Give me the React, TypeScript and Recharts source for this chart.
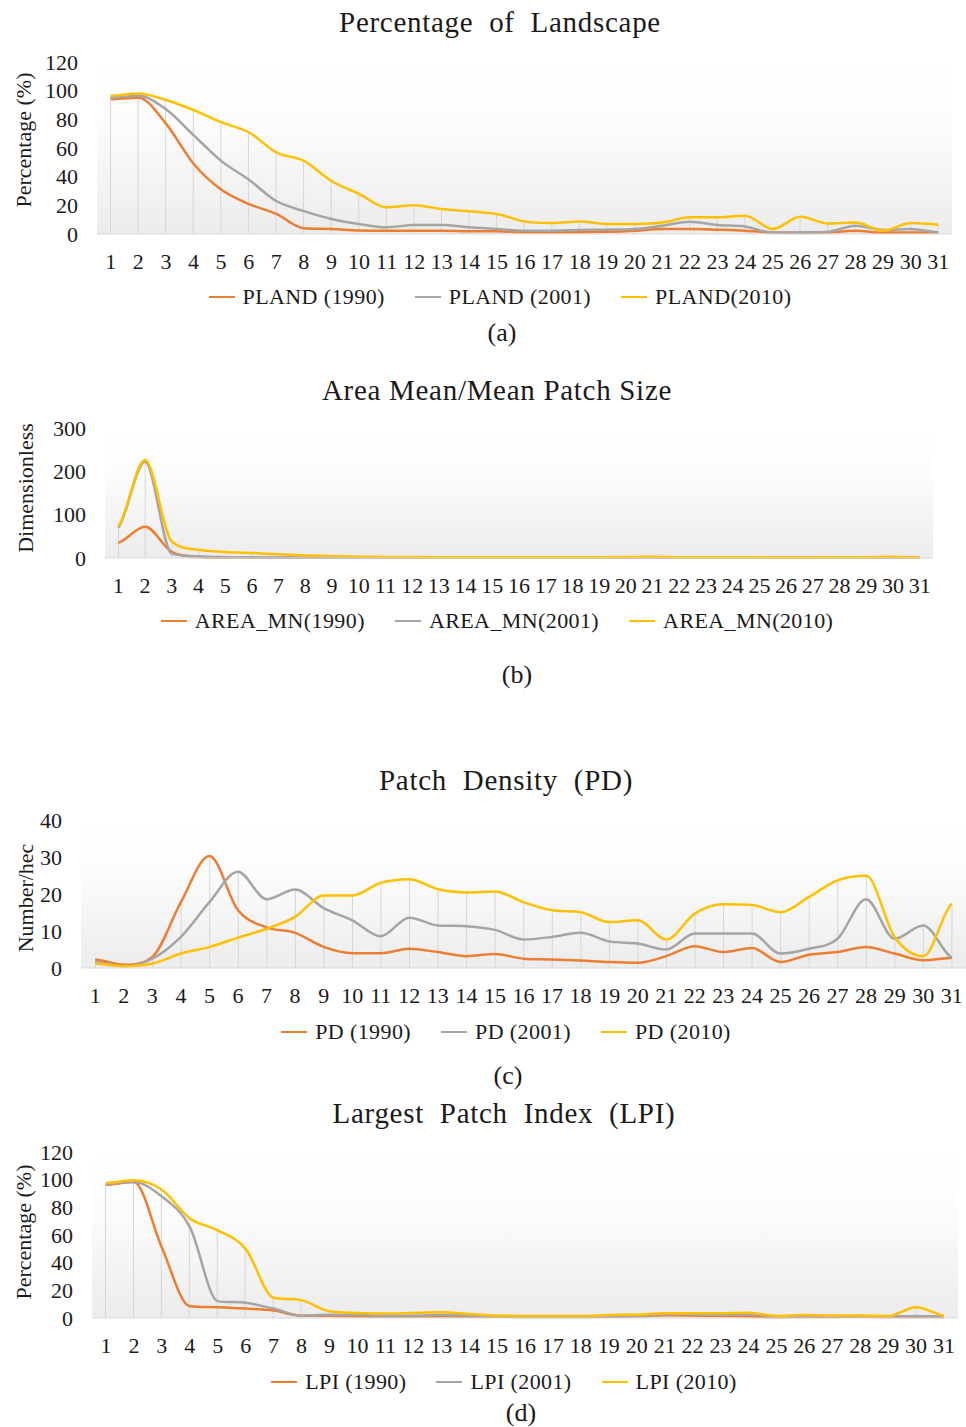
import React from "react";
import { Bar, CartesianGrid, ComposedChart, Label, Line, XAxis, YAxis } from "recharts";

const FONT = '"Liberation Serif", "Times New Roman", serif';
const INK = "#1a1a1a";

const ORANGE = "#ED7D31";
const GREY = "#A5A5A5";
const YELLOW = "#FFC000";

const CATEGORIES = [
  "1", "2", "3", "4", "5", "6", "7", "8", "9", "10", "11", "12", "13", "14", "15", "16",
  "17", "18", "19", "20", "21", "22", "23", "24", "25", "26", "27", "28", "29", "30", "31",
];

// (a) Percentage of Landscape
const PLAND_1990 = [94, 95, 77, 49, 31, 21, 14, 4, 3.5, 2.5, 2.3, 2.3, 2.3, 2, 2, 1.2, 1.2, 1.2, 1.5, 2.3, 3.5, 3.5, 3, 2.3, 1, 0.7, 1, 2.3, 1, 1, 1];
const PLAND_2001 = [95, 96.5, 87, 69, 51, 38, 23, 16, 10.5, 7, 4.7, 6.3, 6.3, 4.7, 3.5, 2.3, 2.3, 2.8, 3, 3.5, 5.8, 8.6, 6.3, 5.3, 1, 1.2, 1.6, 5.8, 2.8, 3.5, 1.2];
const PLAND_2010 = [96.5, 98, 93.5, 86.5, 78, 71, 57, 51, 37, 28, 18.6, 20, 17.4, 15.8, 14, 8.8, 7.7, 8.8, 7, 7, 8, 11.6, 11.6, 12.8, 3.5, 12, 7.4, 8, 2.3, 7.7, 6.5];
const PLAND_TICKS = [0, 20, 40, 60, 80, 100, 120];

// (b) Area Mean / Mean Patch Size
const AREA_1990 = [35, 72, 14, 2.5, 1, 0.6, 0.5, 0.4, 0.4, 0.3, 0.3, 0.3, 0.3, 0.3, 0.3, 0.3, 0.3, 0.3, 0.3, 0.4, 0.4, 0.3, 0.3, 0.3, 0.3, 0.3, 0.3, 0.3, 0.3, 0.4, 0.3];
const AREA_2001 = [70, 222, 10, 4, 2, 1.5, 1.2, 1, 0.8, 0.7, 0.6, 0.6, 0.6, 0.5, 0.5, 0.5, 0.5, 0.5, 0.5, 0.6, 0.6, 0.5, 0.5, 0.5, 0.4, 0.4, 0.4, 0.4, 0.5, 0.6, 0.4];
const AREA_2010 = [73, 226, 38, 19, 14, 11.5, 8.5, 6, 4.5, 3, 2.5, 2.2, 2, 2, 1.8, 1.7, 1.6, 1.6, 1.8, 2.5, 2.8, 2, 1.8, 1.7, 1.5, 1.4, 1.4, 1.5, 2, 2.8, 1.2];
const AREA_TICKS = [0, 100, 200, 300];

// (c) Patch Density
const PD_1990 = [2.3, 0.9, 3, 17.8, 30.3, 15.6, 11, 9.5, 5.7, 4, 4, 5.2, 4.3, 3.2, 3.8, 2.5, 2.3, 2, 1.6, 1.4, 3.2, 5.9, 4.3, 5.4, 1.6, 3.6, 4.3, 5.7, 3.9, 2.1, 2.8];
const PD_2001 = [1.6, 0.5, 2.5, 8.4, 17.8, 26, 18.6, 21.2, 16.2, 12.9, 8.6, 13.6, 11.5, 11.3, 10.3, 7.7, 8.4, 9.5, 7.2, 6.6, 5, 9.3, 9.3, 9.3, 3.9, 5.2, 7.9, 18.6, 7.9, 11.5, 2.8];
const PD_2010 = [1.2, 0.5, 1.2, 3.9, 5.7, 8.2, 10.6, 13.8, 19.6, 19.6, 23, 24, 21.3, 20.4, 20.7, 17.8, 15.6, 15.1, 12.4, 12.9, 7.7, 14.7, 17.2, 17, 15.1, 19.2, 23.7, 24.9, 8.4, 3.2, 17.4];
const PD_TICKS = [0, 10, 20, 30, 40];

// (d) Largest Patch Index
const LPI_1990 = [96.3, 98.3, 51, 8.5, 7.8, 6.8, 5.4, 1.7, 1.7, 1.2, 1, 1, 1.2, 1, 1, 0.8, 0.8, 0.8, 0.9, 1.2, 2, 1.8, 1.5, 1.2, 0.6, 0.8, 0.8, 1, 0.7, 0.7, 0.8];
const LPI_2001 = [97, 98.3, 87.8, 65.9, 12.2, 11, 6.8, 1.7, 2.4, 2.2, 1.7, 1.7, 2.2, 1.7, 1.2, 1, 1, 1, 1.2, 1.5, 2.8, 2.5, 2.2, 2.5, 1, 1.2, 1.2, 1.5, 1, 1.4, 1];
const LPI_2010 = [97.6, 99.5, 92.7, 72, 63.4, 50, 14.6, 12.9, 4.9, 3.7, 3.2, 3.7, 4.1, 2.9, 1.7, 1.5, 1.5, 1.5, 2.2, 2.4, 3.5, 3.5, 3.5, 3.8, 1.5, 2.2, 1.8, 1.8, 1.5, 7.8, 1.7];
const LPI_TICKS = [0, 20, 40, 60, 80, 100, 120];

type Series = { key: string; name: string; color: string; values: number[] };

// Excel-style smoothed line: Catmull-Rom tangents, shrunk so the curve never overshoots a point
function excelCurve(context: any) {
  let pts: [number, number][] = [];
  return {
    areaStart() {},
    areaEnd() {},
    lineStart() {
      pts = [];
    },
    point(x: number, y: number) {
      pts.push([+x, +y]);
    },
    lineEnd() {
      const n = pts.length;
      if (!n) return;
      context.moveTo(pts[0][0], pts[0][1]);
      if (n < 2) return;
      // vertical control offset per point
      const off = pts.map((p, i) => {
        const prev = pts[Math.max(i - 1, 0)];
        const next = pts[Math.min(i + 1, n - 1)];
        const dPrev = p[1] - prev[1];
        const dNext = next[1] - p[1];
        if (i > 0 && i < n - 1 && dPrev * dNext <= 0) return 0;
        let o = (next[1] - prev[1]) / 6;
        const lim = Math.min(
          i > 0 ? Math.abs(dPrev) : Infinity,
          i < n - 1 ? Math.abs(dNext) : Infinity,
        );
        if (Math.abs(o) > lim) o = Math.sign(o) * lim;
        return o;
      });
      for (let i = 0; i < n - 1; i++) {
        const p1 = pts[i];
        const p2 = pts[i + 1];
        const dx = (p2[0] - p1[0]) / 3;
        context.bezierCurveTo(p1[0] + dx, p1[1] + off[i], p2[0] - dx, p2[1] - off[i + 1], p2[0], p2[1]);
      }
    },
  };
}

type PanelProps = {
  id: string;
  title: string;
  titleY: number;
  centerX: number;
  yLabel: string;
  yLabelX: number;
  yLabelY: number;
  legendY: number;
  caption: string;
  captionX: number;
  captionY: number;
  plotTop: number;
  plotBottom: number;
  plotLeft: number;
  plotRight: number;
  yMax: number;
  yTicks: number[];
  series: Series[];
};

function Panel(p: PanelProps) {
  const boxTop = p.plotTop - 20;
  const chartHeight = p.plotBottom - boxTop + 45;
  const rows = CATEGORIES.map((cat, i) => {
    const row: Record<string, number | string> = { cat };
    let top = 0;
    p.series.forEach((s) => {
      row[s.key] = s.values[i];
      top = Math.max(top, s.values[i]);
    });
    row.drop = top;
    return row;
  });

  return (
    <>
      <div
        style={{
          position: "absolute",
          left: p.centerX - 400,
          width: 800,
          top: p.titleY - 17,
          lineHeight: "34px",
          textAlign: "center",
          fontSize: 29,
          letterSpacing: 0.7,
          whiteSpace: "pre",
          color: INK,
        }}
      >
        {p.title}
      </div>
      <div style={{ position: "absolute", left: 0, top: boxTop }}>
        <ComposedChart
          width={966}
          height={chartHeight}
          data={rows}
          margin={{ top: 20, right: 966 - p.plotRight, bottom: 0, left: 0 }}
        >
          <defs>
            <linearGradient id={p.id} x1="0" y1="0" x2="0" y2="1">
              <stop offset="0%" stopColor="#ffffff" />
              <stop offset="35%" stopColor="#fcfcfc" />
              <stop offset="100%" stopColor="#ececec" />
            </linearGradient>
          </defs>
          <CartesianGrid fill={`url(#${p.id})`} horizontal={false} vertical={false} stroke="none" />
          <XAxis
            dataKey="cat"
            interval={0}
            tickLine={false}
            tickSize={0}
            tickMargin={19}
            height={45}
            axisLine={{ stroke: "#d9d9d9" }}
            tick={{ fill: INK, fontSize: 22, fontFamily: FONT }}
          />
          <YAxis
            width={p.plotLeft}
            domain={[0, p.yMax]}
            ticks={p.yTicks}
            interval={0}
            axisLine={false}
            tickLine={false}
            tickSize={0}
            tickMargin={19}
            tick={{ fill: INK, fontSize: 22, fontFamily: FONT }}
          >
            <Label
              value={p.yLabel}
              content={() => (
                <text
                  x={p.yLabelX}
                  y={p.yLabelY - boxTop}
                  transform={`rotate(-90, ${p.yLabelX}, ${p.yLabelY - boxTop})`}
                  textAnchor="middle"
                  dominantBaseline="central"
                  fontSize={22}
                  fontFamily={FONT}
                  fill={INK}
                >
                  {p.yLabel}
                </text>
              )}
            />
          </YAxis>
          <Bar dataKey="drop" barSize={1} fill="#d6d6d6" isAnimationActive={false} />
          {p.series.map((s) => (
            <Line
              key={s.key}
              dataKey={s.key}
              name={s.name}
              type={excelCurve as any}
              stroke={s.color}
              strokeWidth={2.5}
              dot={false}
              activeDot={false}
              isAnimationActive={false}
            />
          ))}
        </ComposedChart>
      </div>
      <div
        style={{
          position: "absolute",
          left: p.centerX - 450,
          width: 900,
          top: p.legendY - 14,
          height: 28,
          display: "flex",
          justifyContent: "center",
          alignItems: "center",
          gap: 30,
          fontSize: 22,
          letterSpacing: 0.4,
          color: INK,
        }}
      >
        {p.series.map((s) => (
          <div key={s.key} style={{ display: "flex", alignItems: "center", whiteSpace: "pre" }}>
            <span style={{ display: "inline-block", width: 26, height: 2, background: s.color, marginRight: 8 }} />
            {s.name}
          </div>
        ))}
      </div>
      <div
        style={{
          position: "absolute",
          left: p.captionX - 50,
          width: 100,
          top: p.captionY - 16,
          lineHeight: "32px",
          textAlign: "center",
          fontSize: 26,
          color: INK,
        }}
      >
        {p.caption}
      </div>
    </>
  );
}

export default function App() {
  return (
    <div
      style={{
        position: "absolute",
        left: 0,
        top: 0,
        width: 966,
        height: 1427,
        overflow: "hidden",
        background: "#fff",
        fontFamily: FONT,
      }}
    >
      <Panel
        id="bgA"
        title="Percentage  of  Landscape"
        titleY={22}
        centerX={500}
        yLabel="Percentage (%)"
        yLabelX={23}
        yLabelY={140}
        legendY={297}
        caption="(a)"
        captionX={502}
        captionY={333}
        plotTop={62}
        plotBottom={234}
        plotLeft={97}
        plotRight={952}
        yMax={120}
        yTicks={PLAND_TICKS}
        series={[
          { key: "p1990", name: "PLAND (1990)", color: ORANGE, values: PLAND_1990 },
          { key: "p2001", name: "PLAND (2001)", color: GREY, values: PLAND_2001 },
          { key: "p2010", name: "PLAND(2010)", color: YELLOW, values: PLAND_2010 },
        ]}
      />
      <Panel
        id="bgB"
        title="Area Mean/Mean Patch Size"
        titleY={390}
        centerX={497}
        yLabel="Dimensionless"
        yLabelX={25}
        yLabelY={488}
        legendY={621}
        caption="(b)"
        captionX={517}
        captionY={675}
        plotTop={428}
        plotBottom={558}
        plotLeft={105}
        plotRight={933}
        yMax={300}
        yTicks={AREA_TICKS}
        series={[
          { key: "a1990", name: "AREA_MN(1990)", color: ORANGE, values: AREA_1990 },
          { key: "a2001", name: "AREA_MN(2001)", color: GREY, values: AREA_2001 },
          { key: "a2010", name: "AREA_MN(2010)", color: YELLOW, values: AREA_2010 },
        ]}
      />
      <Panel
        id="bgC"
        title="Patch  Density  (PD)"
        titleY={780}
        centerX={506}
        yLabel="Number/hec"
        yLabelX={25}
        yLabelY={898}
        legendY={1032}
        caption="(c)"
        captionX={508}
        captionY={1076}
        plotTop={820}
        plotBottom={968}
        plotLeft={81}
        plotRight={966}
        yMax={40}
        yTicks={PD_TICKS}
        series={[
          { key: "d1990", name: "PD (1990)", color: ORANGE, values: PD_1990 },
          { key: "d2001", name: "PD (2001)", color: GREY, values: PD_2001 },
          { key: "d2010", name: "PD (2010)", color: YELLOW, values: PD_2010 },
        ]}
      />
      <Panel
        id="bgD"
        title="Largest  Patch  Index  (LPI)"
        titleY={1113}
        centerX={504}
        yLabel="Percentage (%)"
        yLabelX={23}
        yLabelY={1232}
        legendY={1382}
        caption="(d)"
        captionX={521}
        captionY={1413}
        plotTop={1152}
        plotBottom={1318}
        plotLeft={92}
        plotRight={958}
        yMax={120}
        yTicks={LPI_TICKS}
        series={[
          { key: "l1990", name: "LPI (1990)", color: ORANGE, values: LPI_1990 },
          { key: "l2001", name: "LPI (2001)", color: GREY, values: LPI_2001 },
          { key: "l2010", name: "LPI (2010)", color: YELLOW, values: LPI_2010 },
        ]}
      />
    </div>
  );
}
